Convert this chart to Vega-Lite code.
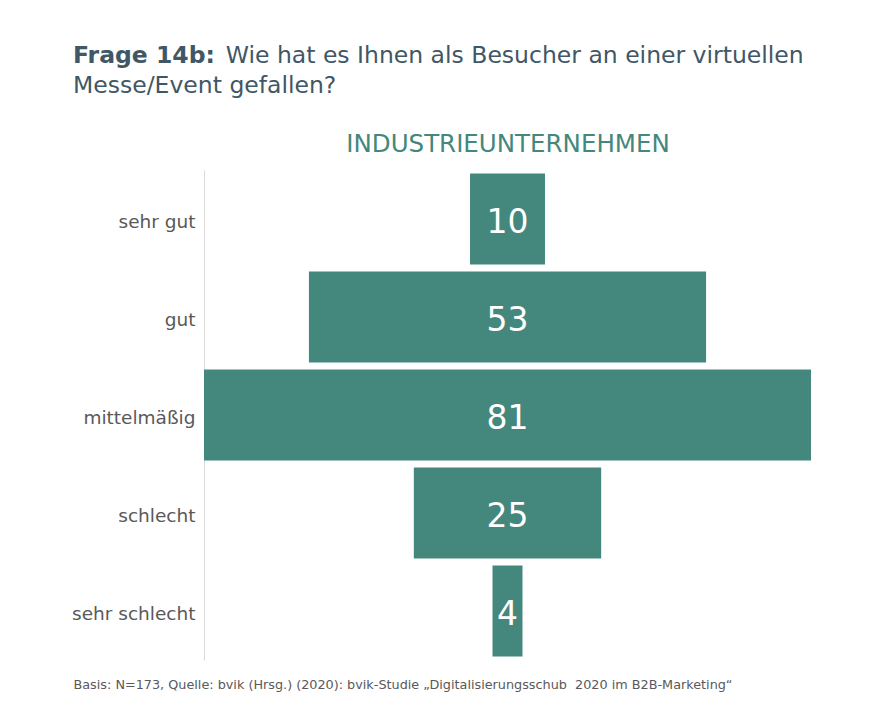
{
  "$schema": "https://vega.github.io/schema/vega-lite/v6.json",
  "autosize": {"type": "none"},
  "width": 607,
  "height": 490,
  "padding": {"left": 204, "top": 170, "right": 65, "bottom": 47},
  "background": "white",
  "config": {"view": {"stroke": null}, "font": "DejaVu Sans"},
  "title": {
    "text": "Frage 14b:",
    "subtitle": ["\u200b\u2003\u2003\u2003\u2003\u2003\u2003\u2002Wie hat es Ihnen als Besucher an einer virtuellen", "Messe/Event gefallen?"],
    "anchor": "start",
    "frame": "group",
    "dx": -131,
    "fontSize": 23.5,
    "fontWeight": "bold",
    "color": "#3f5766",
    "subtitleFontSize": 23.5,
    "subtitleColor": "#3f5766",
    "subtitleFontWeight": "normal",
    "subtitleLineHeight": 30,
    "subtitlePadding": -23.5,
    "offset": 34
  },
  "data": {
    "values": [
      {"kategorie": "sehr gut", "value": 10},
      {"kategorie": "gut", "value": 53},
      {"kategorie": "mittelmäßig", "value": 81},
      {"kategorie": "schlecht", "value": 25},
      {"kategorie": "sehr schlecht", "value": 4}
    ]
  },
  "encoding": {
    "y": {
      "field": "kategorie",
      "type": "nominal",
      "sort": null,
      "scale": {"paddingInner": 0.07, "paddingOuter": 0.035},
      "axis": {
        "title": null,
        "ticks": false,
        "labelFontSize": 18.5,
        "labelColor": "#595959",
        "labelPadding": 9,
        "labelOffset": 3,
        "domainColor": "#d9d9d9",
        "domainWidth": 1
      }
    }
  },
  "layer": [
    {
      "mark": {"type": "bar", "color": "#44877c"},
      "encoding": {
        "x": {
          "field": "value",
          "type": "quantitative",
          "stack": "center",
          "scale": {"nice": false, "zero": true},
          "axis": {
            "orient": "top",
            "title": "INDUSTRIEUNTERNEHMEN",
            "titleFontSize": 24.5,
            "titleFontWeight": "normal",
            "titleColor": "#44877c",
            "titlePadding": 14,
            "labels": false,
            "ticks": false,
            "domain": false,
            "grid": false
          }
        }
      }
    },
    {
      "mark": {"type": "text", "color": "white", "fontSize": 33, "baseline": "middle", "dy": 4},
      "encoding": {
        "x": {
          "datum": 40.5,
          "type": "quantitative",
          "axis": {
            "orient": "bottom",
            "title": "Basis: N=173, Quelle: bvik (Hrsg.) (2020): bvik-Studie „Digitalisierungsschub\u00a0 2020 im B2B-Marketing“",
            "titleFontSize": 12.8,
            "titleFontWeight": "normal",
            "titleColor": "#595959",
            "titleAnchor": "start",
            "titleAlign": "left",
            "titleX": -131,
            "titleY": 28,
            "titleBaseline": "alphabetic",
            "labels": false,
            "ticks": false,
            "domain": false,
            "grid": false
          }
        },
        "text": {"field": "value", "type": "quantitative"}
      }
    }
  ],
  "resolve": {"axis": {"x": "independent"}}
}
